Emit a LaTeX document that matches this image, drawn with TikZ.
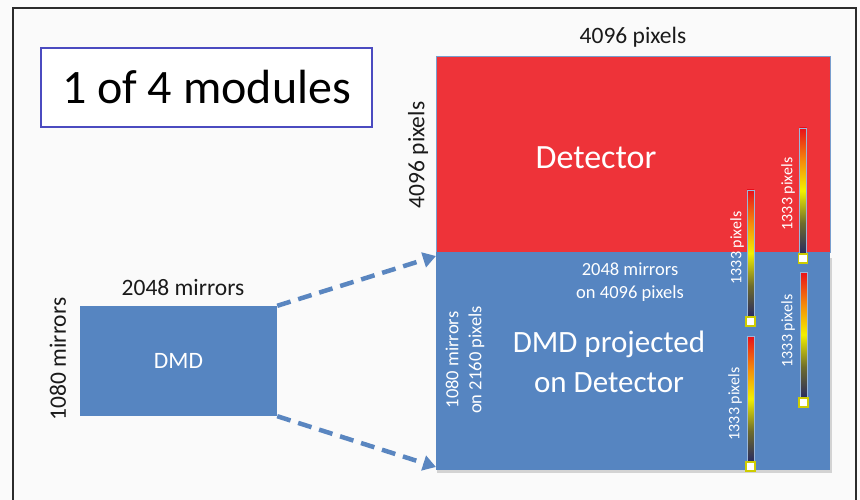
\documentclass[tikz,border=0pt]{standalone}
\usepackage{fontspec}
\setmainfont{Carlito}
\usetikzlibrary{arrows.meta,calc}
\definecolor{detred}{HTML}{EE3339}
\definecolor{dmdblue}{HTML}{5685C1}
\definecolor{arrowblue}{HTML}{5A86C0}
\definecolor{framegray}{HTML}{2B2B2B}
\definecolor{legendblue}{HTML}{4B4BC0}
\definecolor{barnavy}{HTML}{2A2C5E}
\definecolor{barolive}{HTML}{6E6C2C}
\definecolor{baryellow}{HTML}{F2F000}
\definecolor{barorange}{HTML}{F58A0A}
\definecolor{barred}{HTML}{E8101A}
\definecolor{textdark}{HTML}{1A1A1A}
\pgfdeclareverticalshading{colorbar}{100bp}{color(0bp)=(barnavy); color(25bp)=(barnavy); color(37bp)=(barolive); color(50bp)=(baryellow); color(62bp)=(barorange); color(75bp)=(barred); color(100bp)=(barred)}
\newcommand{\fsz}[1]{\fontsize{#1}{#1}\selectfont}
\tikzset{
  bigrect/.style={inner sep=0pt, minimum width=394pt},
  cbar/.style={draw=dmdblue!60!white, line width=0.5pt, shading=colorbar, minimum width=7pt, inner sep=0pt},
  sqmark/.style={fill=white, draw=baryellow!85!black, line width=1.5pt, minimum size=9pt, inner sep=0pt, anchor=north},
  barlabel/.style={rotate=90, text=white, font=\fsz{16}, inner sep=0pt},
  dlabel/.style={text=textdark, font=\fsz{23.5}, inner sep=0pt},
  wlabel/.style={text=white, inner sep=0pt, align=center},
  dasharrow/.style={draw=arrowblue, line width=4.5pt, dash pattern=on 14pt off 8pt, -{Triangle[length=13pt,width=15pt]}}
}
\begin{document}
\begin{tikzpicture}[x=1pt,y=-1pt]
\useasboundingbox (0,0) rectangle (860,500);
\clip (0,0) rectangle (860,500);
\fill[white!98!black] (0,0) rectangle (860,500);
\draw[framegray, line width=2.5pt] (13,8) rectangle (856,540);

% legend
\node[draw=legendblue, line width=1.3pt, fill=white, minimum width=331pt, minimum height=79pt, inner sep=0pt, font=\fsz{48}, text=black] (legend) at (206.5,87.5) {1 of 4 modules};

% detector and projected areas
\fill[black!45, opacity=0.35] (437,258) rectangle (832,473);
\node[bigrect, fill=detred, draw=dmdblue!80, line width=0.8pt, minimum height=196pt] (det) at (633,154) {};
\node[bigrect, fill=dmdblue, minimum height=218pt] (proj) at (633,361) {};

\node[dlabel] (toplab) at (633,37) {4096 pixels};
\node[dlabel, rotate=90] (sidelab) at (418,155) {4096 pixels};
\node[wlabel, font=\fsz{34}] (dettext) at (596,158) {Detector};
\node[wlabel, font=\fontsize{18.5}{23}\selectfont] (projtop) at (630,282) {2048 mirrors\\on 4096 pixels};
\node[wlabel, rotate=90, font=\fontsize{18.5}{23}\selectfont] (projside) at (465,360) {1080 mirrors\\on 2160 pixels};
\node[wlabel, font=\fontsize{31}{40}\selectfont] (projtext) at (609,362) {DMD projected\\on Detector};

% DMD
\node[fill=dmdblue, minimum width=197pt, minimum height=110pt, inner sep=0pt, text=white, font=\fsz{23.5}] (dmd) at (178.5,361) {DMD};
\node[dlabel] (dmdtop) at (183,288) {2048 mirrors};
\node[dlabel, rotate=90] (dmdside) at (58,359) {1080 mirrors};

% arrows
\coordinate (tipa) at (436,256);
\coordinate (tipb) at (436,467);
\draw[dasharrow] (dmd.north east) -- (tipa);
\draw[dasharrow] (dmd.south east) -- (tipb);

% colour bars
\node[cbar, minimum height=126pt] (bar1) at (750.5,253) {};
\node[sqmark] (sq1) at (bar1.south) {};
\node[barlabel] (lab1) at (737,248) {1333 pixels};

\node[cbar, minimum height=125pt] (bar2) at (803,190.5) {};
\node[sqmark] (sq2) at (bar2.south) {};
\node[barlabel] (lab2) at (788,194) {1333 pixels};

\node[cbar, minimum height=125pt] (bar3) at (750.5,398.5) {};
\node[sqmark] (sq3) at (bar3.south) {};
\node[barlabel] (lab3) at (735,404) {1333 pixels};

\node[cbar, minimum height=125pt] (bar4) at (803.5,334.5) {};
\node[sqmark] (sq4) at (bar4.south) {};
\node[barlabel] (lab4) at (788,331) {1333 pixels};
\end{tikzpicture}
\end{document}
